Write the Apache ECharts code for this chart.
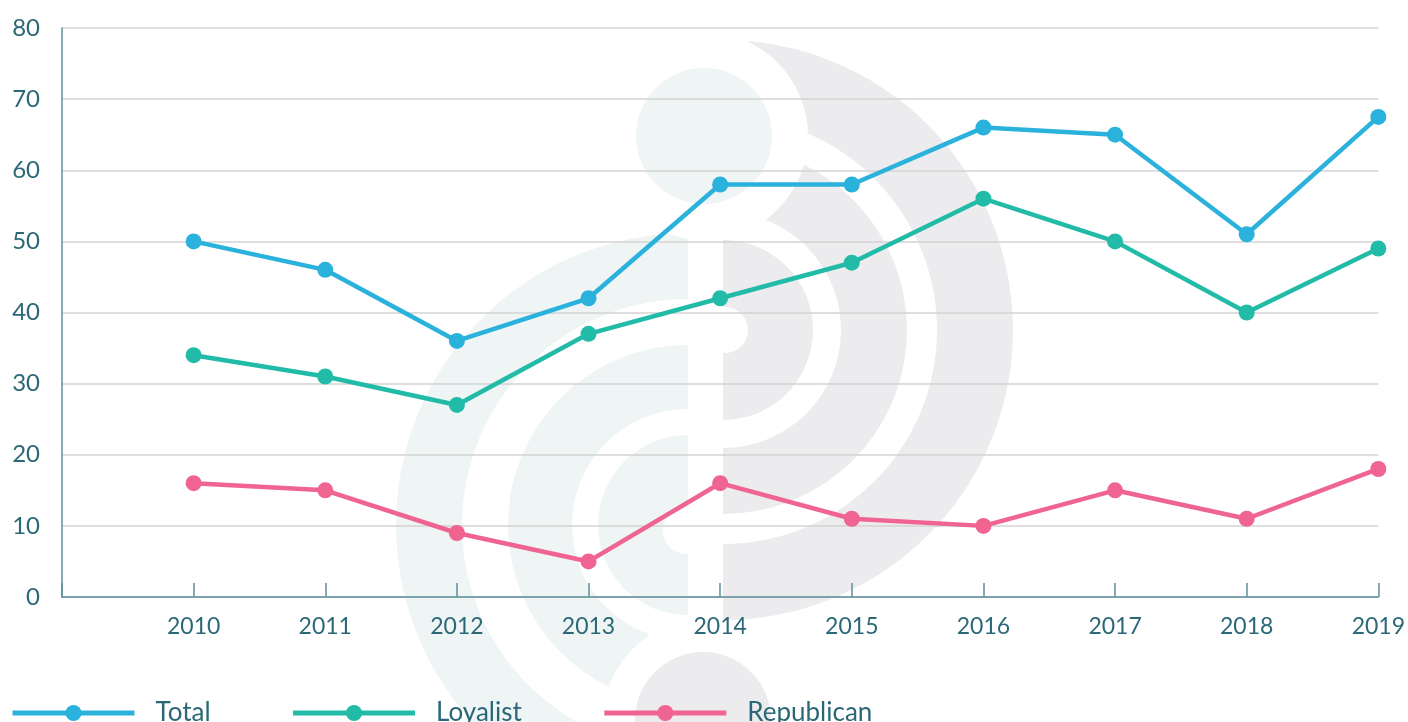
<!DOCTYPE html>
<html>
<head>
<meta charset="utf-8">
<script src="https://cdn.jsdelivr.net/npm/echarts@6/dist/echarts.min.js"></script>
<style>
  html, body { margin: 0; padding: 0; background: #fff; }
  #chart { width: 1408px; height: 722px; }
</style>
</head>
<body>
<div id="chart"></div>
<script>
const years = [2010, 2011, 2012, 2013, 2014, 2015, 2016, 2017, 2018, 2019];
const total = [50, 46, 36, 42, 58, 58, 66, 65, 51, 67.5];
const loyalist = [34, 31, 27, 37, 42, 47, 56, 50, 40, 49];
const republican = [16, 15, 9, 5, 16, 11, 10, 15, 11, 18];

const seriesNames = ['Total', 'Loyalist', 'Republican'];
const seriesColors = ['#2ab1dc', '#22bba8', '#ef6491'];

const axisColor = '#5e8f9b';
const labelColor = '#2b6877';
const gray = '#ececee';
const green = '#eef5f4';

const deg = d => d * Math.PI / 180;

// faint logo watermark behind the plot
function ring(cx, cy, r0, r, a0, a1, fill) {
    return {
        type: 'sector', z: -10, silent: true,
        shape: { cx, cy, r0, r, startAngle: deg(a0), endAngle: deg(a1), clockwise: true },
        style: { fill }
    };
}
function disc(cx, cy, r, fill, z) {
    return { type: 'circle', z: z, silent: true, shape: { cx, cy, r }, style: { fill } };
}

const watermark = [
    ring(723, 330, 0, 90, -90, 90, gray),
    ring(723, 330, 118, 184, -80, 90, gray),
    ring(723, 330, 214, 290, -85, 90, gray),
    ring(688, 525, 0, 90, 90, 270, green),
    ring(688, 525, 116, 180, 110, 270, green),
    ring(688, 525, 226, 292, 75, 270, green),
    disc(725, 330, 23, '#fff', -9),
    disc(686, 531, 23, '#fff', -9),
    disc(704, 136, 104, '#fff', -9),
    disc(703, 720, 100, '#fff', -9),
    disc(704, 136, 68, green, -8),
    disc(703, 720, 68, gray, -8)
];

const chart = echarts.init(document.getElementById('chart'));

const lists = [total, loyalist, republican];

const option = {
    animation: false,
    textStyle: { fontFamily: 'Lato' },
    graphic: { elements: watermark },
    grid: { left: 62, top: 28, width: 1320, bottom: 125 },
    legend: {
        left: 10,
        top: 700,
        padding: 0,
        itemWidth: 122,
        itemHeight: 20,
        itemGap: 80,
        lineStyle: { width: 5 },
        textStyle: {
            fontFamily: 'Lato',
            fontSize: 26,
            color: labelColor,
            padding: [0, 0, 0, 16]
        },
        data: seriesNames
    },
    xAxis: {
        type: 'value',
        min: 2009,
        max: 2019,
        interval: 1,
        axisLine: { lineStyle: { color: axisColor, width: 1.5 } },
        axisTick: { inside: true, length: 14, lineStyle: { color: axisColor, width: 1.5 } },
        splitLine: { show: false },
        axisLabel: {
            color: labelColor,
            fontSize: 23,
            margin: 18,
            formatter: v => (v === 2009 ? '' : String(v))
        }
    },
    yAxis: {
        type: 'value',
        min: 0,
        max: 80,
        interval: 10,
        axisLine: { show: true, lineStyle: { color: axisColor, width: 1.5 } },
        axisTick: { show: false },
        splitLine: { lineStyle: { color: '#d3d3d3', width: 1.5 } },
        axisLabel: { color: labelColor, fontSize: 24, margin: 22 }
    },
    series: seriesNames.map((name, i) => ({
        name,
        type: 'line',
        data: years.map((y, j) => [y, lists[i][j]]),
        symbol: 'circle',
        symbolSize: 16,
        z: 3,
        lineStyle: { width: 4.5, color: seriesColors[i] },
        itemStyle: { color: seriesColors[i] }
    }))
};

chart.setOption(option);
</script>
</body>
</html>
